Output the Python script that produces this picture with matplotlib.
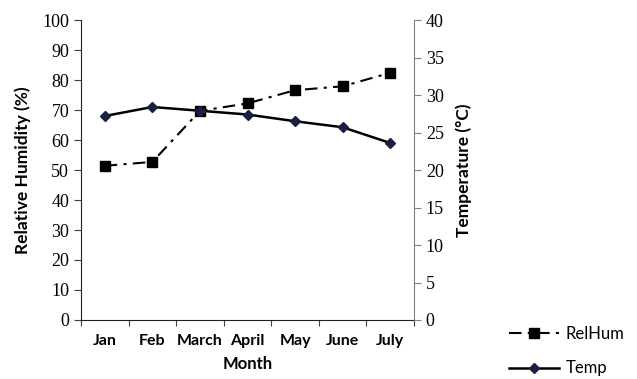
import matplotlib.pyplot as plt

# Monthly relative humidity and temperature
months = ['Jan', 'Feb', 'March', 'April', 'May', 'June', 'July']
rel_hum = [51.4, 52.7, 69.7, 72.2, 76.6, 77.9, 82.4]
temp = [27.2, 28.4, 27.9, 27.4, 26.5, 25.7, 23.6]

plt.rcParams['font.family'] = ['Lato', 'DejaVu Sans']
plt.rcParams['font.size'] = 11

fig = plt.figure(figsize=(6.37, 3.79), dpi=100)
ax = fig.add_axes([81 / 637, 1 - 320 / 379, (414 - 81) / 637, 300 / 379])
ax2 = ax.twinx()

x = list(range(len(months)))
l1, = ax.plot(x, rel_hum, color='black', linestyle=(0, (6, 3, 1.5, 3)), linewidth=1.5,
              marker='s', markersize=6.5, label='RelHum')
l2, = ax2.plot(x, temp, color='black', linestyle='-', linewidth=1.8,
               marker='D', markersize=5, markerfacecolor='#1a2040', markeredgecolor='#1a2040',
               label='Temp')

ax.set_xlim(-0.5, len(months) - 0.5)
ax.set_ylim(0, 100)
ax2.set_ylim(0, 40)
ax.set_yticks(range(0, 101, 10))
ax2.set_yticks(range(0, 41, 5))

# Category ticks at boundaries, labels centred
ax.set_xticks([i - 0.5 for i in range(len(months) + 1)])
ax.set_xticklabels([])
ax.set_xticks(x, minor=True)
ax.set_xticklabels(months, minor=True, fontweight='bold', fontsize=11.5)
ax.tick_params(axis='x', which='minor', length=0, pad=10)
ax.tick_params(axis='x', which='major', length=4, color='#404040')

# Serif numbers on both value axes
ax.tick_params(axis='y', length=5, color='#404040', labelsize=13,
               labelfontfamily='Liberation Serif')
ax2.tick_params(axis='y', length=5, color='#808080', labelsize=13,
                labelfontfamily='Liberation Serif')

for a in (ax, ax2):
    a.spines['top'].set_visible(False)
ax.spines['left'].set_color('#202020')
ax.spines['bottom'].set_color('#202020')
ax.spines['right'].set_visible(False)
ax2.spines['right'].set_color('#808080')
ax2.spines['left'].set_visible(False)
ax2.spines['bottom'].set_visible(False)

ax.set_xlabel('Month', fontweight='bold', fontsize=12, labelpad=6)
ax.set_ylabel('Relative Humidity (%)', fontweight='bold', fontsize=12.5, labelpad=8)
ax2.set_ylabel('Temperature (°C)', fontweight='bold', fontsize=12.5, labelpad=8)

fig.legend(handles=[l1, l2], loc='center left', bbox_to_anchor=(0.775, 0.073),
           frameon=False, handlelength=3, labelspacing=1.1, handletextpad=0.4,
           prop={'size': 12})

fig.savefig('out.png', dpi=100)
